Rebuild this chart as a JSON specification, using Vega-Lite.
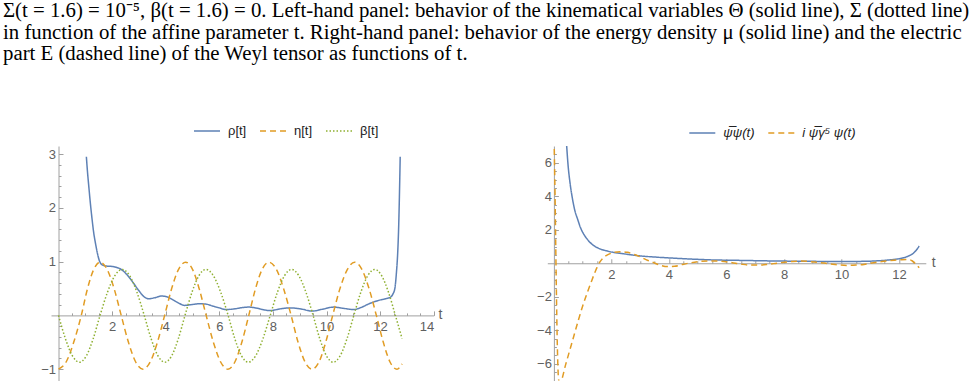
{
  "$schema": "https://vega.github.io/schema/vega-lite/v6.json",
  "padding": {"left": 3, "top": 0, "right": 0, "bottom": 0},
  "bounds": "flush",
  "spacing": 113.3,
  "title": {
    "text": [
      "Σ(t = 1.6) = 10⁻⁵, β(t = 1.6) = 0. Left-hand panel: behavior of the kinematical variables Θ (solid line), Σ (dotted line)",
      "in function of the affine parameter t. Right-hand panel: behavior of the energy density μ (solid line) and the electric",
      "part E (dashed line) of the Weyl tensor as functions of t."
    ],
    "anchor": "start",
    "frame": "group",
    "dx": -48,
    "font": "Liberation Serif",
    "fontSize": 20.8,
    "fontWeight": "normal",
    "color": "#000000",
    "lineHeight": 21.5,
    "offset": 52
  },
  "datasets": {
    "left": [
      {"s": "ρ[t]", "t": 1.04, "v": 2.95}, {"s": "ρ[t]", "t": 1.08, "v": 2.68}, {"s": "ρ[t]", "t": 1.13, "v": 2.4},
      {"s": "ρ[t]", "t": 1.19, "v": 2.08}, {"s": "ρ[t]", "t": 1.25, "v": 1.8}, {"s": "ρ[t]", "t": 1.31, "v": 1.55},
      {"s": "ρ[t]", "t": 1.38, "v": 1.34}, {"s": "ρ[t]", "t": 1.45, "v": 1.16}, {"s": "ρ[t]", "t": 1.53, "v": 1.01},
      {"s": "ρ[t]", "t": 1.6, "v": 0.95}, {"s": "ρ[t]", "t": 1.7, "v": 0.925}, {"s": "ρ[t]", "t": 1.85, "v": 0.915},
      {"s": "ρ[t]", "t": 2.0, "v": 0.91}, {"s": "ρ[t]", "t": 2.15, "v": 0.895}, {"s": "ρ[t]", "t": 2.34, "v": 0.855},
      {"s": "ρ[t]", "t": 2.55, "v": 0.76}, {"s": "ρ[t]", "t": 2.77, "v": 0.62}, {"s": "ρ[t]", "t": 3.0, "v": 0.46},
      {"s": "ρ[t]", "t": 3.21, "v": 0.34}, {"s": "ρ[t]", "t": 3.38, "v": 0.31}, {"s": "ρ[t]", "t": 3.6, "v": 0.33},
      {"s": "ρ[t]", "t": 3.85, "v": 0.36}, {"s": "ρ[t]", "t": 4.05, "v": 0.345}, {"s": "ρ[t]", "t": 4.27, "v": 0.29},
      {"s": "ρ[t]", "t": 4.5, "v": 0.225}, {"s": "ρ[t]", "t": 4.7, "v": 0.186}, {"s": "ρ[t]", "t": 4.95, "v": 0.2},
      {"s": "ρ[t]", "t": 5.26, "v": 0.217}, {"s": "ρ[t]", "t": 5.51, "v": 0.21}, {"s": "ρ[t]", "t": 5.75, "v": 0.175},
      {"s": "ρ[t]", "t": 6.0, "v": 0.14}, {"s": "ρ[t]", "t": 6.26, "v": 0.11}, {"s": "ρ[t]", "t": 6.55, "v": 0.12},
      {"s": "ρ[t]", "t": 6.85, "v": 0.145}, {"s": "ρ[t]", "t": 7.1, "v": 0.155}, {"s": "ρ[t]", "t": 7.4, "v": 0.135},
      {"s": "ρ[t]", "t": 7.65, "v": 0.105}, {"s": "ρ[t]", "t": 7.91, "v": 0.09}, {"s": "ρ[t]", "t": 8.25, "v": 0.12},
      {"s": "ρ[t]", "t": 8.65, "v": 0.14}, {"s": "ρ[t]", "t": 9.05, "v": 0.12}, {"s": "ρ[t]", "t": 9.46, "v": 0.08},
      {"s": "ρ[t]", "t": 9.85, "v": 0.115}, {"s": "ρ[t]", "t": 10.27, "v": 0.155}, {"s": "ρ[t]", "t": 10.65, "v": 0.13},
      {"s": "ρ[t]", "t": 11.02, "v": 0.11}, {"s": "ρ[t]", "t": 11.3, "v": 0.15}, {"s": "ρ[t]", "t": 11.58, "v": 0.215},
      {"s": "ρ[t]", "t": 11.95, "v": 0.28}, {"s": "ρ[t]", "t": 12.2, "v": 0.31}, {"s": "ρ[t]", "t": 12.39, "v": 0.34},
      {"s": "ρ[t]", "t": 12.48, "v": 0.4}, {"s": "ρ[t]", "t": 12.55, "v": 0.5}, {"s": "ρ[t]", "t": 12.61, "v": 0.8},
      {"s": "ρ[t]", "t": 12.66, "v": 1.2}, {"s": "ρ[t]", "t": 12.69, "v": 1.6}, {"s": "ρ[t]", "t": 12.72, "v": 2.2},
      {"s": "ρ[t]", "t": 12.75, "v": 2.95},

      {"s": "η[t]", "t": 0.0, "v": -1.0}, {"s": "η[t]", "t": 0.283, "v": -0.866}, {"s": "η[t]", "t": 0.567, "v": -0.5},
      {"s": "η[t]", "t": 0.85, "v": 0.0}, {"s": "η[t]", "t": 1.083, "v": 0.5}, {"s": "η[t]", "t": 1.317, "v": 0.857},
      {"s": "η[t]", "t": 1.55, "v": 0.99}, {"s": "η[t]", "t": 1.813, "v": 0.857}, {"s": "η[t]", "t": 2.077, "v": 0.495},
      {"s": "η[t]", "t": 2.34, "v": 0.0}, {"s": "η[t]", "t": 2.61, "v": -0.5}, {"s": "η[t]", "t": 2.88, "v": -0.866},
      {"s": "η[t]", "t": 3.15, "v": -1.0}, {"s": "η[t]", "t": 3.42, "v": -0.866}, {"s": "η[t]", "t": 3.69, "v": -0.5},
      {"s": "η[t]", "t": 3.96, "v": 0.0}, {"s": "η[t]", "t": 4.22, "v": 0.495}, {"s": "η[t]", "t": 4.48, "v": 0.857},
      {"s": "η[t]", "t": 4.74, "v": 0.99}, {"s": "η[t]", "t": 5.0, "v": 0.857}, {"s": "η[t]", "t": 5.25, "v": 0.495},
      {"s": "η[t]", "t": 5.51, "v": 0.0}, {"s": "η[t]", "t": 5.78, "v": -0.5}, {"s": "η[t]", "t": 6.05, "v": -0.866},
      {"s": "η[t]", "t": 6.32, "v": -1.0}, {"s": "η[t]", "t": 6.58, "v": -0.866}, {"s": "η[t]", "t": 6.84, "v": -0.5},
      {"s": "η[t]", "t": 7.1, "v": 0.0}, {"s": "η[t]", "t": 7.35, "v": 0.495}, {"s": "η[t]", "t": 7.6, "v": 0.857},
      {"s": "η[t]", "t": 7.85, "v": 0.99}, {"s": "η[t]", "t": 8.13, "v": 0.857}, {"s": "η[t]", "t": 8.4, "v": 0.495},
      {"s": "η[t]", "t": 8.68, "v": 0.0}, {"s": "η[t]", "t": 8.94, "v": -0.5}, {"s": "η[t]", "t": 9.2, "v": -0.866},
      {"s": "η[t]", "t": 9.46, "v": -1.0}, {"s": "η[t]", "t": 9.72, "v": -0.866}, {"s": "η[t]", "t": 9.97, "v": -0.5},
      {"s": "η[t]", "t": 10.23, "v": 0.0}, {"s": "η[t]", "t": 10.5, "v": 0.495}, {"s": "η[t]", "t": 10.78, "v": 0.857},
      {"s": "η[t]", "t": 11.05, "v": 0.99}, {"s": "η[t]", "t": 11.32, "v": 0.857}, {"s": "η[t]", "t": 11.59, "v": 0.495},
      {"s": "η[t]", "t": 11.86, "v": 0.0}, {"s": "η[t]", "t": 12.12, "v": -0.5}, {"s": "η[t]", "t": 12.37, "v": -0.866},
      {"s": "η[t]", "t": 12.63, "v": -1.0}, {"s": "η[t]", "t": 12.82, "v": -0.9},

      {"s": "β[t]", "t": 0.0, "v": 0.0}, {"s": "β[t]", "t": 0.26, "v": -0.435}, {"s": "β[t]", "t": 0.52, "v": -0.753},
      {"s": "β[t]", "t": 0.78, "v": -0.87}, {"s": "β[t]", "t": 1.037, "v": -0.753}, {"s": "β[t]", "t": 1.293, "v": -0.435},
      {"s": "β[t]", "t": 1.55, "v": 0.0}, {"s": "β[t]", "t": 1.827, "v": 0.43}, {"s": "β[t]", "t": 2.103, "v": 0.74},
      {"s": "β[t]", "t": 2.38, "v": 0.855}, {"s": "β[t]", "t": 2.653, "v": 0.74}, {"s": "β[t]", "t": 2.927, "v": 0.43},
      {"s": "β[t]", "t": 3.2, "v": 0.0}, {"s": "β[t]", "t": 3.457, "v": -0.435}, {"s": "β[t]", "t": 3.713, "v": -0.753},
      {"s": "β[t]", "t": 3.97, "v": -0.87}, {"s": "β[t]", "t": 4.22, "v": -0.753}, {"s": "β[t]", "t": 4.47, "v": -0.435},
      {"s": "β[t]", "t": 4.72, "v": 0.0}, {"s": "β[t]", "t": 4.98, "v": 0.43}, {"s": "β[t]", "t": 5.24, "v": 0.74},
      {"s": "β[t]", "t": 5.5, "v": 0.855}, {"s": "β[t]", "t": 5.777, "v": 0.74}, {"s": "β[t]", "t": 6.053, "v": 0.43},
      {"s": "β[t]", "t": 6.33, "v": 0.0}, {"s": "β[t]", "t": 6.58, "v": -0.435}, {"s": "β[t]", "t": 6.83, "v": -0.753},
      {"s": "β[t]", "t": 7.08, "v": -0.87}, {"s": "β[t]", "t": 7.353, "v": -0.753}, {"s": "β[t]", "t": 7.627, "v": -0.435},
      {"s": "β[t]", "t": 7.9, "v": 0.0}, {"s": "β[t]", "t": 8.167, "v": 0.43}, {"s": "β[t]", "t": 8.433, "v": 0.74},
      {"s": "β[t]", "t": 8.7, "v": 0.855}, {"s": "β[t]", "t": 8.967, "v": 0.74}, {"s": "β[t]", "t": 9.233, "v": 0.43},
      {"s": "β[t]", "t": 9.5, "v": 0.0}, {"s": "β[t]", "t": 9.75, "v": -0.435}, {"s": "β[t]", "t": 10.0, "v": -0.753},
      {"s": "β[t]", "t": 10.25, "v": -0.87}, {"s": "β[t]", "t": 10.507, "v": -0.753}, {"s": "β[t]", "t": 10.763, "v": -0.435},
      {"s": "β[t]", "t": 11.02, "v": 0.0}, {"s": "β[t]", "t": 11.28, "v": 0.43}, {"s": "β[t]", "t": 11.54, "v": 0.74},
      {"s": "β[t]", "t": 11.8, "v": 0.855}, {"s": "β[t]", "t": 12.057, "v": 0.74}, {"s": "β[t]", "t": 12.313, "v": 0.43},
      {"s": "β[t]", "t": 12.57, "v": 0.0}, {"s": "β[t]", "t": 12.82, "v": -0.43}
    ],
    "right": [
      {"s": "ψ̅ψ(t)", "t": 0.44, "v": 7.1}, {"s": "ψ̅ψ(t)", "t": 0.49, "v": 5.9}, {"s": "ψ̅ψ(t)", "t": 0.56, "v": 4.8},
      {"s": "ψ̅ψ(t)", "t": 0.64, "v": 3.9}, {"s": "ψ̅ψ(t)", "t": 0.72, "v": 3.2}, {"s": "ψ̅ψ(t)", "t": 0.82, "v": 2.65},
      {"s": "ψ̅ψ(t)", "t": 0.93, "v": 2.1}, {"s": "ψ̅ψ(t)", "t": 1.05, "v": 1.7}, {"s": "ψ̅ψ(t)", "t": 1.2, "v": 1.35},
      {"s": "ψ̅ψ(t)", "t": 1.39, "v": 1.05}, {"s": "ψ̅ψ(t)", "t": 1.6, "v": 0.86}, {"s": "ψ̅ψ(t)", "t": 1.86, "v": 0.73},
      {"s": "ψ̅ψ(t)", "t": 2.1, "v": 0.64}, {"s": "ψ̅ψ(t)", "t": 2.44, "v": 0.56}, {"s": "ψ̅ψ(t)", "t": 3.0, "v": 0.44},
      {"s": "ψ̅ψ(t)", "t": 3.6, "v": 0.36}, {"s": "ψ̅ψ(t)", "t": 4.2, "v": 0.3}, {"s": "ψ̅ψ(t)", "t": 4.76, "v": 0.25},
      {"s": "ψ̅ψ(t)", "t": 5.5, "v": 0.2}, {"s": "ψ̅ψ(t)", "t": 6.5, "v": 0.17}, {"s": "ψ̅ψ(t)", "t": 7.5, "v": 0.14},
      {"s": "ψ̅ψ(t)", "t": 8.5, "v": 0.12}, {"s": "ψ̅ψ(t)", "t": 9.5, "v": 0.11}, {"s": "ψ̅ψ(t)", "t": 10.5, "v": 0.11},
      {"s": "ψ̅ψ(t)", "t": 11.2, "v": 0.14}, {"s": "ψ̅ψ(t)", "t": 11.6, "v": 0.19}, {"s": "ψ̅ψ(t)", "t": 12.0, "v": 0.27},
      {"s": "ψ̅ψ(t)", "t": 12.17, "v": 0.33}, {"s": "ψ̅ψ(t)", "t": 12.35, "v": 0.45}, {"s": "ψ̅ψ(t)", "t": 12.5, "v": 0.6},
      {"s": "ψ̅ψ(t)", "t": 12.6, "v": 0.78}, {"s": "ψ̅ψ(t)", "t": 12.7, "v": 1.03},

      {"s": "i ψ̅γ⁵ ψ(t)", "t": 0.0, "v": 8.0}, {"s": "i ψ̅γ⁵ ψ(t)", "t": 0.04, "v": 4.0}, {"s": "i ψ̅γ⁵ ψ(t)", "t": 0.08, "v": -1.0},
      {"s": "i ψ̅γ⁵ ψ(t)", "t": 0.12, "v": -5.0}, {"s": "i ψ̅γ⁵ ψ(t)", "t": 0.16, "v": -6.9}, {"s": "i ψ̅γ⁵ ψ(t)", "t": 0.2, "v": -7.15},
      {"s": "i ψ̅γ⁵ ψ(t)", "t": 0.26, "v": -7.0}, {"s": "i ψ̅γ⁵ ψ(t)", "t": 0.4, "v": -6.1}, {"s": "i ψ̅γ⁵ ψ(t)", "t": 0.55, "v": -5.2},
      {"s": "i ψ̅γ⁵ ψ(t)", "t": 0.7, "v": -4.3}, {"s": "i ψ̅γ⁵ ψ(t)", "t": 0.85, "v": -3.4}, {"s": "i ψ̅γ⁵ ψ(t)", "t": 1.0, "v": -2.55},
      {"s": "i ψ̅γ⁵ ψ(t)", "t": 1.15, "v": -1.8}, {"s": "i ψ̅γ⁵ ψ(t)", "t": 1.28, "v": -1.2}, {"s": "i ψ̅γ⁵ ψ(t)", "t": 1.4, "v": -0.65},
      {"s": "i ψ̅γ⁵ ψ(t)", "t": 1.5, "v": -0.25}, {"s": "i ψ̅γ⁵ ψ(t)", "t": 1.6, "v": 0.08}, {"s": "i ψ̅γ⁵ ψ(t)", "t": 1.7, "v": 0.3},
      {"s": "i ψ̅γ⁵ ψ(t)", "t": 1.86, "v": 0.5}, {"s": "i ψ̅γ⁵ ψ(t)", "t": 2.05, "v": 0.63}, {"s": "i ψ̅γ⁵ ψ(t)", "t": 2.3, "v": 0.69},
      {"s": "i ψ̅γ⁵ ψ(t)", "t": 2.55, "v": 0.65}, {"s": "i ψ̅γ⁵ ψ(t)", "t": 2.8, "v": 0.52}, {"s": "i ψ̅γ⁵ ψ(t)", "t": 3.02, "v": 0.37},
      {"s": "i ψ̅γ⁵ ψ(t)", "t": 3.25, "v": 0.18}, {"s": "i ψ̅γ⁵ ψ(t)", "t": 3.48, "v": 0.03}, {"s": "i ψ̅γ⁵ ψ(t)", "t": 3.7, "v": -0.12},
      {"s": "i ψ̅γ⁵ ψ(t)", "t": 3.95, "v": -0.2}, {"s": "i ψ̅γ⁵ ψ(t)", "t": 4.2, "v": -0.18}, {"s": "i ψ̅γ⁵ ψ(t)", "t": 4.45, "v": -0.08},
      {"s": "i ψ̅γ⁵ ψ(t)", "t": 4.76, "v": 0.03}, {"s": "i ψ̅γ⁵ ψ(t)", "t": 5.05, "v": 0.1}, {"s": "i ψ̅γ⁵ ψ(t)", "t": 5.34, "v": 0.13},
      {"s": "i ψ̅γ⁵ ψ(t)", "t": 5.6, "v": 0.13}, {"s": "i ψ̅γ⁵ ψ(t)", "t": 5.92, "v": 0.1}, {"s": "i ψ̅γ⁵ ψ(t)", "t": 6.2, "v": 0.03},
      {"s": "i ψ̅γ⁵ ψ(t)", "t": 6.5, "v": -0.05}, {"s": "i ψ̅γ⁵ ψ(t)", "t": 6.84, "v": -0.11}, {"s": "i ψ̅γ⁵ ψ(t)", "t": 7.1, "v": -0.11},
      {"s": "i ψ̅γ⁵ ψ(t)", "t": 7.42, "v": -0.07}, {"s": "i ψ̅γ⁵ ψ(t)", "t": 7.7, "v": -0.01}, {"s": "i ψ̅γ⁵ ψ(t)", "t": 8.0, "v": 0.06},
      {"s": "i ψ̅γ⁵ ψ(t)", "t": 8.3, "v": 0.11}, {"s": "i ψ̅γ⁵ ψ(t)", "t": 8.58, "v": 0.13}, {"s": "i ψ̅γ⁵ ψ(t)", "t": 8.9, "v": 0.1},
      {"s": "i ψ̅γ⁵ ψ(t)", "t": 9.16, "v": 0.06}, {"s": "i ψ̅γ⁵ ψ(t)", "t": 9.4, "v": 0.01}, {"s": "i ψ̅γ⁵ ψ(t)", "t": 9.62, "v": -0.04},
      {"s": "i ψ̅γ⁵ ψ(t)", "t": 9.9, "v": -0.1}, {"s": "i ψ̅γ⁵ ψ(t)", "t": 10.2, "v": -0.13}, {"s": "i ψ̅γ⁵ ψ(t)", "t": 10.5, "v": -0.11},
      {"s": "i ψ̅γ⁵ ψ(t)", "t": 10.78, "v": -0.07}, {"s": "i ψ̅γ⁵ ψ(t)", "t": 11.0, "v": -0.01}, {"s": "i ψ̅γ⁵ ψ(t)", "t": 11.25, "v": 0.07},
      {"s": "i ψ̅γ⁵ ψ(t)", "t": 11.55, "v": 0.13}, {"s": "i ψ̅γ⁵ ψ(t)", "t": 11.83, "v": 0.18}, {"s": "i ψ̅γ⁵ ψ(t)", "t": 12.05, "v": 0.21},
      {"s": "i ψ̅γ⁵ ψ(t)", "t": 12.29, "v": 0.23}, {"s": "i ψ̅γ⁵ ψ(t)", "t": 12.45, "v": 0.15}, {"s": "i ψ̅γ⁵ ψ(t)", "t": 12.58, "v": -0.05},
      {"s": "i ψ̅γ⁵ ψ(t)", "t": 12.7, "v": -0.27}
    ]
  },
  "hconcat": [
    {
      "width": 382.7,
      "height": 234.5,
      "data": {"name": "left"},
      "layer": [
        {
          "mark": {"type": "line", "interpolate": "monotone", "strokeWidth": 1.5, "clip": true},
          "encoding": {
            "x": {
              "field": "t", "type": "quantitative",
              "scale": {"domain": [-0.28, 14], "nice": false, "zero": false},
              "axis": {"orient": "bottom", "values": [2, 4, 6, 8, 10, 12, 14], "offset": -65.1, "labelPadding": 9.5, "title": "t", "titleX": 387, "titleY": -1}
            },
            "y": {
              "field": "v", "type": "quantitative",
              "scale": {"domain": [-1.21, 3.15], "nice": false, "zero": false},
              "axis": {"orient": "left", "values": [-1, 1, 2, 3], "offset": -7.5, "labelPadding": 7.5, "title": null}
            },
            "color": {
              "field": "s", "type": "nominal",
              "scale": {"domain": ["ρ[t]", "η[t]", "β[t]"], "range": ["#5E81B5", "#E19C24", "#8FB032"]},
              "legend": {"orient": "none", "legendX": 142, "legendY": -29, "direction": "horizontal", "title": null}
            },
            "strokeDash": {
              "field": "s", "type": "nominal",
              "scale": {"domain": ["ρ[t]", "η[t]", "β[t]"], "range": [[1, 0], [6, 4], [1.5, 2]]},
              "legend": {"orient": "none", "legendX": 142, "legendY": -29, "direction": "horizontal", "title": null}
            }
          }
        },
        {
          "mark": {"type": "point", "opacity": 0},
          "encoding": {
            "x": {
              "field": "t", "type": "quantitative",
              "axis": {"orient": "bottom", "values": [0.5, 1, 1.5, 2.5, 3, 3.5, 4.5, 5, 5.5, 6.5, 7, 7.5, 8.5, 9, 9.5, 10.5, 11, 11.5, 12.5, 13, 13.5], "offset": -65.1, "title": null, "labels": false, "domain": false, "tickSize": -2.5}
            },
            "y": {
              "field": "v", "type": "quantitative",
              "axis": {"orient": "left", "values": [-0.8, -0.6, -0.4, -0.2, 0.2, 0.4, 0.6, 0.8, 1.2, 1.4, 1.6, 1.8, 2.2, 2.4, 2.6, 2.8], "offset": -7.5, "title": null, "labels": false, "domain": false, "tickSize": -2.5}
            }
          }
        }
      ],
      "resolve": {"axis": {"x": "independent", "y": "independent"}}
    },
    {
      "width": 378.5,
      "height": 234.5,
      "data": {"name": "right"},
      "layer": [
        {
          "mark": {"type": "line", "interpolate": "monotone", "strokeWidth": 1.5, "clip": true},
          "encoding": {
            "x": {
              "field": "t", "type": "quantitative",
              "scale": {"domain": [-0.23, 12.93], "nice": false, "zero": false},
              "axis": {"orient": "bottom", "values": [2, 4, 6, 8, 10, 12], "offset": -117.25, "labelPadding": 9.5, "title": "t", "titleX": 384, "titleY": -1}
            },
            "y": {
              "field": "v", "type": "quantitative",
              "scale": {"domain": [-7, 7], "nice": false, "zero": false},
              "axis": {"orient": "left", "values": [-6, -4, -2, 2, 4, 6], "offset": -6.6, "labelPadding": 7, "title": null}
            },
            "color": {
              "field": "s", "type": "nominal",
              "scale": {"domain": ["ψ̅ψ(t)", "i ψ̅γ⁵ ψ(t)"], "range": ["#5E81B5", "#E19C24"]},
              "legend": {"orient": "none", "legendX": 141, "legendY": -27, "direction": "horizontal", "title": null, "labelFontStyle": "italic"}
            },
            "strokeDash": {
              "field": "s", "type": "nominal",
              "scale": {"domain": ["ψ̅ψ(t)", "i ψ̅γ⁵ ψ(t)"], "range": [[1, 0], [6, 4]]},
              "legend": {"orient": "none", "legendX": 141, "legendY": -27, "direction": "horizontal", "title": null, "labelFontStyle": "italic"}
            }
          }
        },
        {
          "mark": {"type": "point", "opacity": 0},
          "encoding": {
            "x": {
              "field": "t", "type": "quantitative",
              "axis": {"orient": "bottom", "values": [0.5, 1, 1.5, 2.5, 3, 3.5, 4.5, 5, 5.5, 6.5, 7, 7.5, 8.5, 9, 9.5, 10.5, 11, 11.5, 12.5], "offset": -117.25, "title": null, "labels": false, "domain": false, "tickSize": -2.5}
            },
            "y": {
              "field": "v", "type": "quantitative",
              "axis": {"orient": "left", "values": [-6.5, -5.5, -5, -4.5, -3.5, -3, -2.5, -1.5, -1, -0.5, 0.5, 1, 1.5, 2.5, 3, 3.5, 4.5, 5, 5.5, 6.5], "offset": -6.6, "title": null, "labels": false, "domain": false, "tickSize": -2.5}
            }
          }
        }
      ],
      "resolve": {"axis": {"x": "independent", "y": "independent"}}
    }
  ],
  "resolve": {"scale": {"color": "independent", "strokeDash": "independent"}, "legend": {"color": "independent", "strokeDash": "independent"}},
  "config": {
    "view": {"stroke": null},
    "axis": {
      "grid": false,
      "domainColor": "#a0a0a0",
      "tickColor": "#a0a0a0",
      "tickSize": -4.5,
      "labelPadding": 8,
      "labelColor": "#606060",
      "labelFont": "Liberation Sans",
      "labelFontSize": 13,
      "format": "d",
      "titleFont": "Liberation Sans",
      "titleFontSize": 14,
      "titleFontWeight": "normal",
      "titleColor": "#606060",
      "titleAngle": 0,
      "titleAlign": "left",
      "titleBaseline": "middle"
    },
    "legend": {
      "symbolType": "stroke",
      "symbolSize": 676,
      "symbolStrokeWidth": 1.5,
      "labelFont": "Liberation Sans",
      "labelFontSize": 13,
      "labelColor": "#222222",
      "labelOffset": 7,
      "columnPadding": 10
    }
  }
}
